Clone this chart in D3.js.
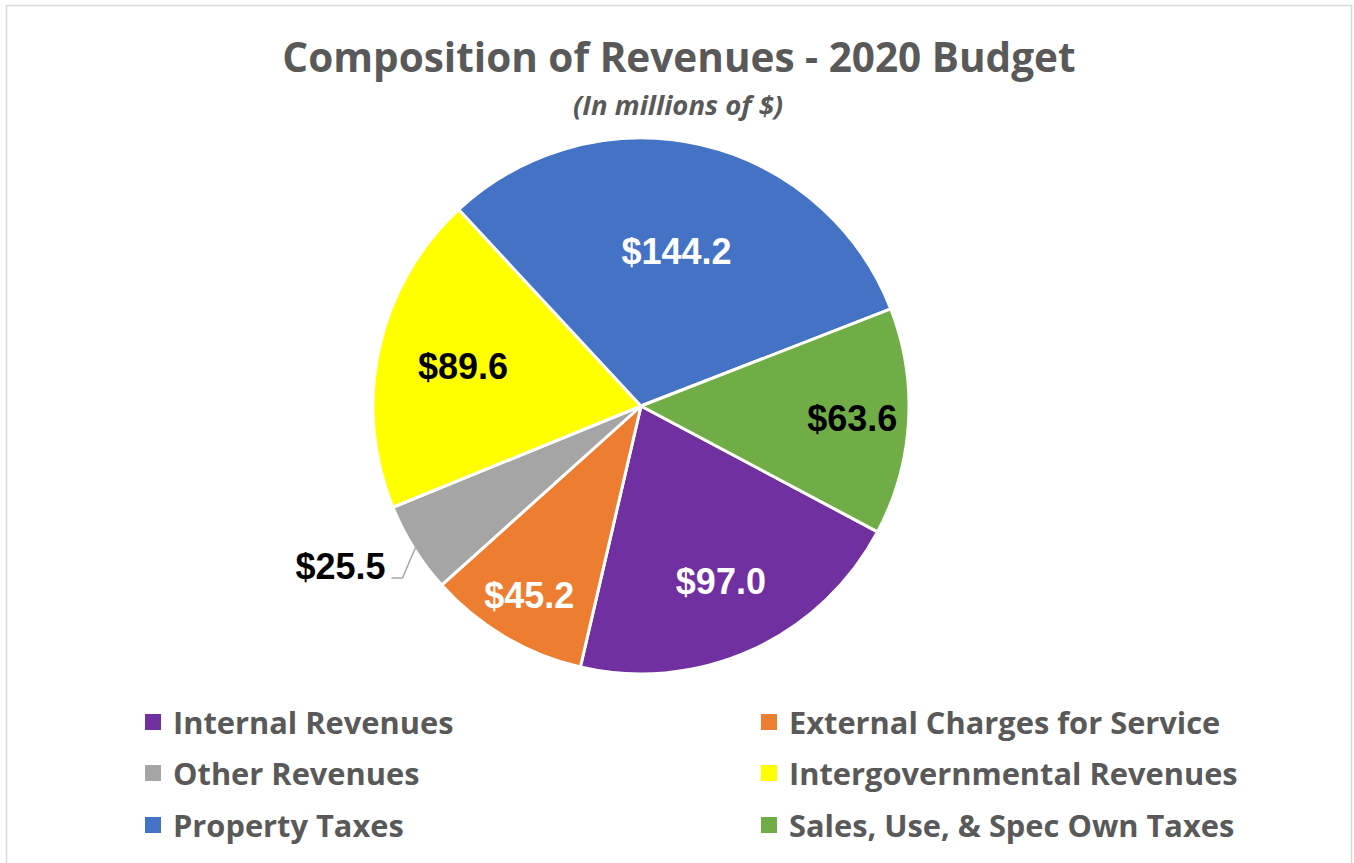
<!DOCTYPE html>
<html lang="en">
<head>
    <meta charset="UTF-8">
    <title>Composition of Revenues - 2020 Budget</title>
    <style>
        body {
            margin: 0;
            background-color: #ffffff;
        }
        svg {
            display: block;
        }
        .title {
            font-family: "Open Sans", sans-serif;
            font-weight: bold;
            fill: #595959;
        }
        .legend text {
            font-family: "Open Sans", sans-serif;
            font-weight: bold;
            fill: #595959;
        }
        .label {
            font-family: "Liberation Sans", Arial, sans-serif;
            font-weight: bold;
            font-size: 36px;
        }
    </style>
</head>
<body>
    <svg id="chart" width="1354" height="863"></svg>
    <script src="https://d3js.org/d3.v7.min.js"></script>
    <script>
        // Data (millions of $), in clockwise order
        const categories = ["Internal Revenues", "External Charges for Service", "Other Revenues",
            "Intergovernmental Revenues", "Property Taxes", "Sales, Use, & Spec Own Taxes"];
        const values = [97.0, 45.2, 25.5, 89.6, 144.2, 63.6];
        const labels = ["$97.0", "$45.2", "$25.5", "$89.6", "$144.2", "$63.6"];
        const colors = ["#7030a0", "#ed7d31", "#a5a5a5", "#ffff00", "#4472c4", "#70ad47"];
        const labelColors = ["#ffffff", "#ffffff", "#000000", "#000000", "#ffffff", "#000000"];

        // where each data label sits, as a fraction of the radius (null = outside)
        const labelRadius = [0.72, 0.82, null, 0.68, 0.59, 0.79];

        const svg = d3.select("#chart");

        // chart border
        svg.append("rect")
            .attr("x", 6.5).attr("y", 5.5)
            .attr("width", 1345).attr("height", 870)
            .attr("fill", "none")
            .attr("stroke", "#d9d9d9")
            .attr("stroke-width", 1.5);

        svg.append("text")
            .attr("class", "title")
            .attr("x", 679).attr("y", 72)
            .attr("text-anchor", "middle")
            .attr("font-size", 40.5)
            .text("Composition of Revenues - 2020 Budget");

        svg.append("text")
            .attr("class", "title")
            .attr("x", 678).attr("y", 115)
            .attr("text-anchor", "middle")
            .attr("font-size", 27.5)
            .attr("font-style", "italic")
            .text("(In millions of $)");

        const cx = 641, cy = 406, r = 268;
        const startAngle = 118 * Math.PI / 180;

        const pie = d3.pie()
            .sort(null)
            .startAngle(startAngle)
            .endAngle(startAngle + 2 * Math.PI)
            .value(d => d);

        const arcs = pie(values);
        const arc = d3.arc().innerRadius(0).outerRadius(r);
        const polar = (a, rad) => [Math.sin(a) * rad, -Math.cos(a) * rad];
        const mid = d => (d.startAngle + d.endAngle) / 2;

        const g = svg.append("g").attr("transform", `translate(${cx},${cy})`);

        g.selectAll("path")
            .data(arcs)
            .join("path")
            .attr("d", arc)
            .attr("fill", (d, i) => colors[i])
            .attr("stroke", "#ffffff")
            .attr("stroke-width", 3)
            .attr("stroke-linejoin", "round");

        g.selectAll("text.label")
            .data(arcs)
            .join("text")
            .attr("class", "label")
            .attr("text-anchor", (d, i) => labelRadius[i] === null ? "end" : "middle")
            .attr("dominant-baseline", "central")
            .attr("fill", (d, i) => labelColors[i])
            .attr("transform", (d, i) => {
                const k = labelRadius[i] === null ? 1.125 : labelRadius[i];
                const [x, y] = polar(mid(d), r * k);
                return `translate(${x},${y})`;
            })
            .text((d, i) => labels[i]);

        // leader line for the outside label
        arcs.forEach((d, i) => {
            if (labelRadius[i] !== null) return;
            const a = mid(d);
            const edge = polar(a, r - 2);
            const anchor = polar(a, r * 1.125);
            const elbow = [anchor[0] + 17, anchor[1] + 12];
            const end = [anchor[0] + 6, anchor[1] + 12];
            g.append("polyline")
                .attr("points", [edge, elbow, end].map(p => p.join(",")).join(" "))
                .attr("fill", "none")
                .attr("stroke", "#a6a6a6")
                .attr("stroke-width", 1.5);
        });

        // legend, two columns
        const legend = svg.append("g").attr("class", "legend");
        const colX = [153, 769], rowY = [722, 773, 825];
        categories.forEach((c, i) => {
            const x = colX[i % 2], y = rowY[Math.floor(i / 2)];
            legend.append("rect")
                .attr("x", x - 8).attr("y", y - 8)
                .attr("width", 16).attr("height", 16)
                .attr("fill", colors[i]);
            legend.append("text")
                .attr("x", x + 20).attr("y", y)
                .attr("dominant-baseline", "central")
                .attr("font-size", 30.8)
                .text(c);
        });
    </script>
</body>
</html>
